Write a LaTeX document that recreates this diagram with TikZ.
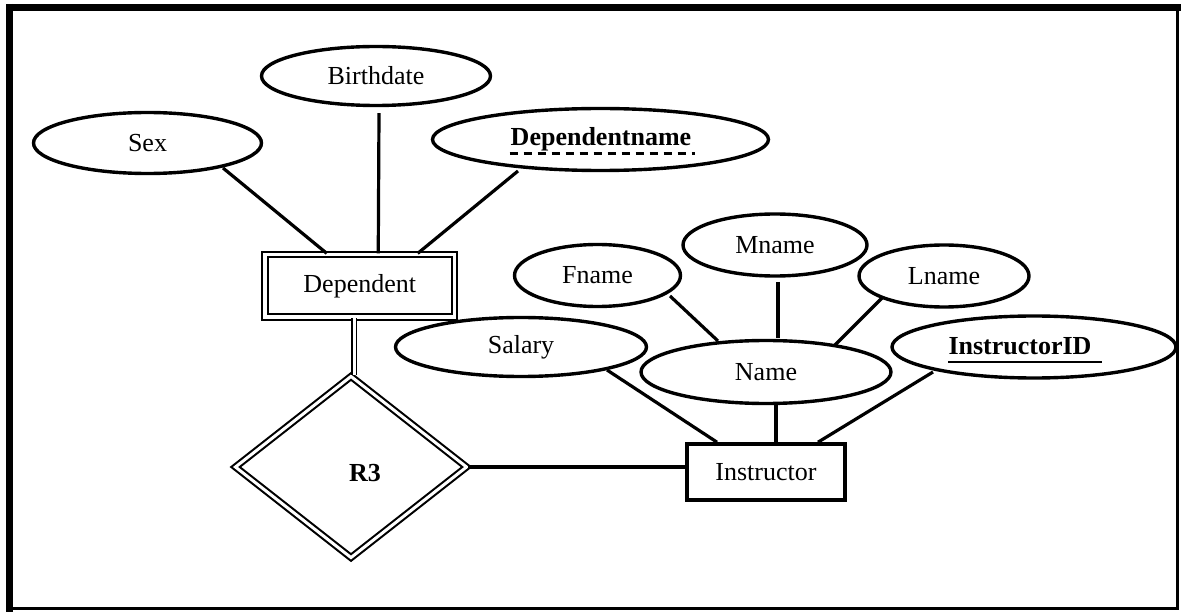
\documentclass[tikz,border=0pt]{standalone}
\usepackage{fontspec}
\setmainfont{Liberation Serif}
\usetikzlibrary{shapes.geometric,calc}
\tikzset{
  attr/.style={ellipse, draw, line width=3.4pt, inner sep=0pt, font=\fontsize{26}{30}\selectfont},
  txt/.style={inner sep=0pt, font=\fontsize{26}{30}\selectfont},
  conn/.style={line width=3.2pt},
  dconn/.style={double, double distance=3pt, line width=1.8pt},
  entbox/.style={rectangle, draw, line width=3.6pt, inner sep=0pt, font=\fontsize{26}{30}\selectfont},
  weakbox/.style={rectangle, draw, double, double distance=3.3pt, line width=2.3pt, inner sep=0pt, font=\fontsize{26}{30}\selectfont},
  weakrel/.style={diamond, draw, double, double distance=3pt, line width=2.1pt, inner sep=0pt}
}
\begin{document}
\begin{tikzpicture}[x=1pt, y=-1pt]
\useasboundingbox (0,0) rectangle (1181,612);
% frame
\draw[line width=7pt] (9.5,4) -- (9.5,612);
\draw[line width=7pt] (6,7.5) -- (1181,7.5);
\draw[line width=3pt] (1177.5,11) -- (1177.5,609.5);
\draw[line width=2.5pt] (13,608.5) -- (1179,608.5);

% attributes of Dependent
\node[attr, minimum width=228pt, minimum height=61pt] (sex) at (147.5,143) {Sex};
\node[attr, minimum width=229pt, minimum height=59pt] (birth) at (376,76) {Birthdate};
\node[attr, minimum width=336pt, minimum height=62pt] (dname) at (600.5,139.5) {};
\node[txt, font=\fontsize{26}{30}\selectfont\bfseries] (dnamet) at (601,139) {Dependentname};
\draw[line width=2.6pt, dash pattern=on 8.5pt off 5.5pt] ($(dname.center)+(-91,14)$) -- ($(dname.center)+(94,14)$);

% Dependent entity
\node[weakbox, minimum width=189.5pt, minimum height=62.5pt] (dep) at (359.75,285.75) {Dependent};

% R3 relationship
\node[weakrel, minimum width=232pt, minimum height=182pt] (r3) at (351,467) {};
\node[txt, font=\fontsize{26}{30}\selectfont\bfseries] (r3t) at ($(r3)+(14,6)$) {R3};

% Instructor entity
\node[entbox, minimum width=158pt, minimum height=56pt] (inst) at (766,472) {Instructor};

% attributes of Instructor
\node[attr, minimum width=166pt, minimum height=62pt] (fname) at (597.5,275.5) {Fname};
\node[attr, minimum width=184pt, minimum height=62pt] (mname) at (775,245) {Mname};
\node[attr, minimum width=170pt, minimum height=62pt] (lname) at (944,276) {Lname};
\node[attr, minimum width=251pt, minimum height=59pt] (salary) at (521,347) {Salary};
\node[attr, minimum width=250pt, minimum height=63pt] (name) at (766,372) {Name};
\node[attr, minimum width=284pt, minimum height=62pt] (iid) at (1034,347) {};
\node[txt, font=\fontsize{26}{30}\selectfont\bfseries] (iidt) at (1020,346) {InstructorID};
\draw[line width=2pt] ($(iid.center)+(-86,15)$) -- ($(iid.center)+(68,15)$);

% connectors
\draw[conn] ($(sex)+(75.5,25)$) -- ($(dep.north)+(-33,0)$);
\draw[conn] ($(birth.south)+(3,6)$) -- ($(dep.north)+(18.5,0)$);
\draw[conn] ($(dname)+(-82.5,31.5)$) -- ($(dep.north)+(58,0)$);
\draw[dconn] ($(dep.south)+(-5.75,0)$) -- ($(r3.north)+(3,0)$);
\draw[conn] (r3.east) -- (r3.east -| inst.west);
\draw[conn] ($(fname)+(72.5,20.5)$) -- ($(name)+(-48,-31)$);
\draw[conn] ($(mname)+(3,37)$) -- ($(name)+(12,-34)$);
\draw[conn] ($(lname)+(-61,21)$) -- ($(name)+(69,-27)$);
\draw[conn] ($(salary)+(86,23)$) -- ($(inst.north)+(-49,0)$);
\draw[conn] ($(name)+(10,33)$) -- ($(inst.north)+(10,0)$);
\draw[conn] ($(iid)+(-101,25)$) -- ($(inst.north)+(52,0)$);
\end{tikzpicture}
\end{document}
